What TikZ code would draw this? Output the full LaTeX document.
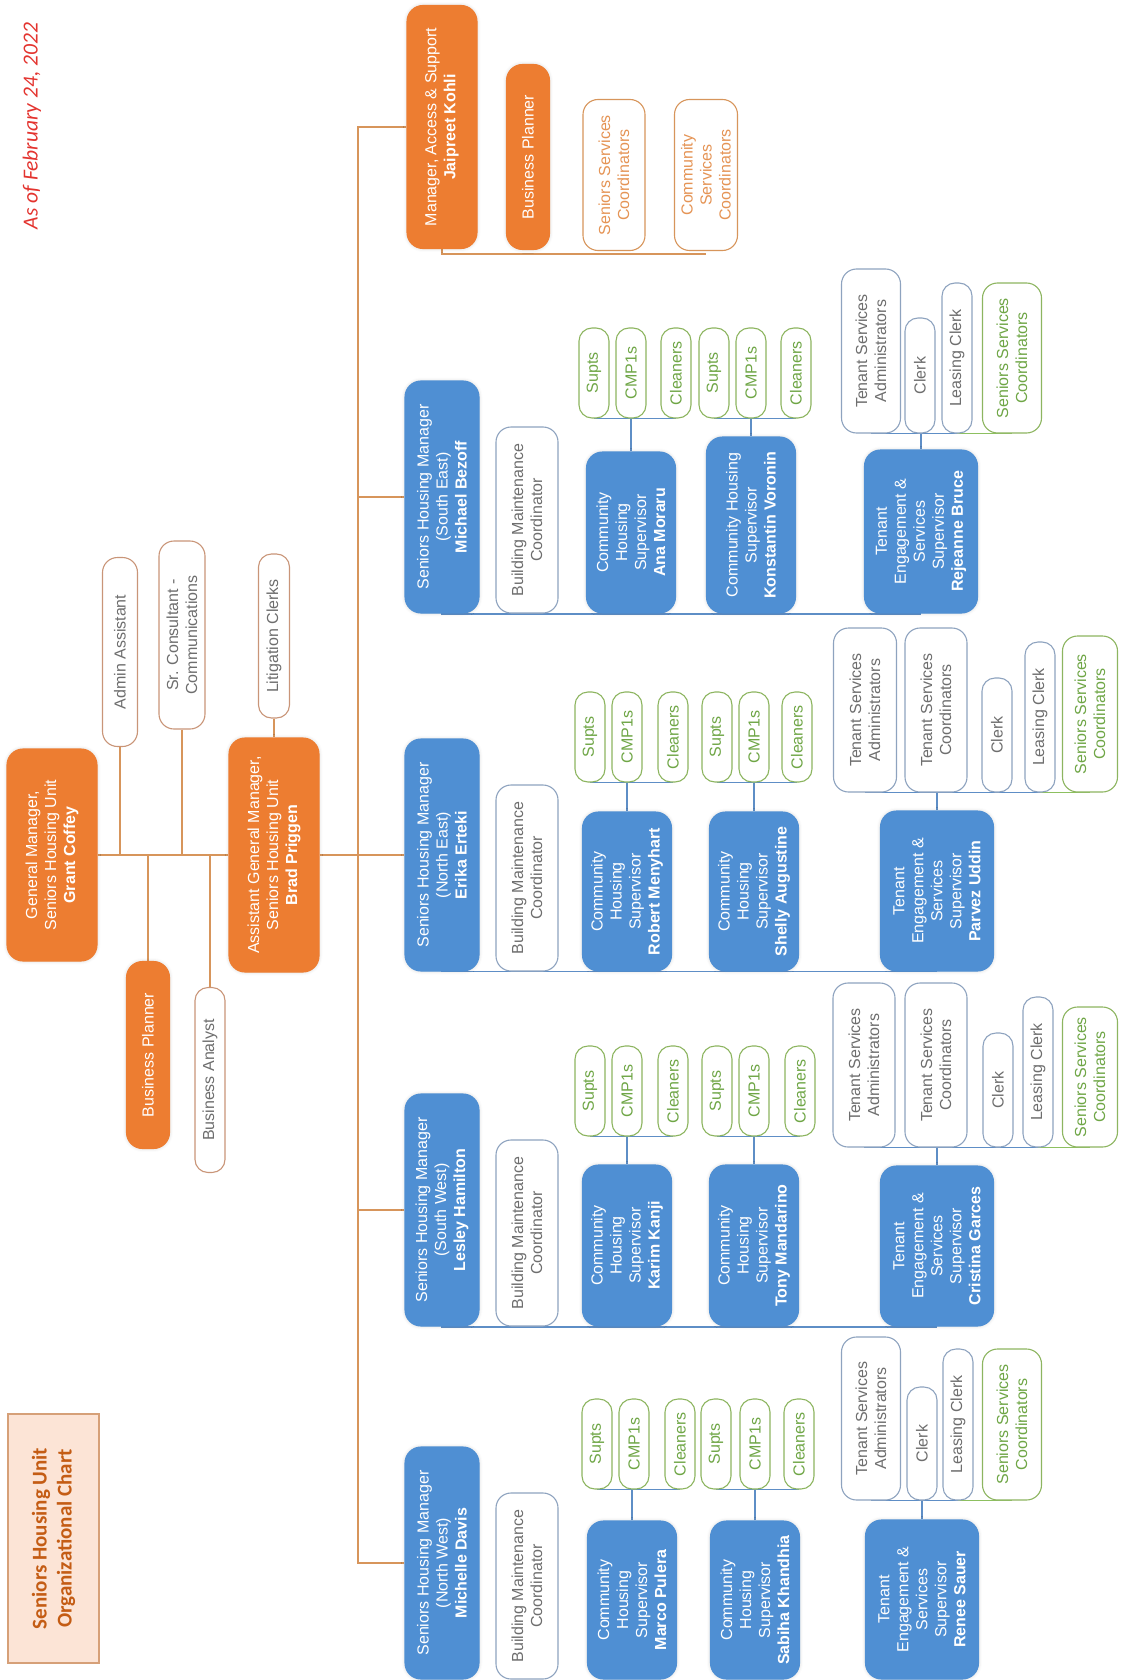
\documentclass[tikz,border=0pt]{standalone}
\usepackage{fontspec}
\setmainfont{Liberation Sans}
\newfontfamily\calib{Carlito}
\usetikzlibrary{calc,shadows.blur}
\pgfdeclarelayer{background}
\pgfsetlayers{background,main}
\definecolor{cOrange}{RGB}{237,125,49}
\definecolor{cBlue}{RGB}{79,143,211}
\definecolor{cOLine}{RGB}{215,149,91}
\definecolor{cBLine}{RGB}{94,142,198}
\definecolor{cGLine}{RGB}{141,192,96}
\definecolor{cBGray}{RGB}{142,163,191}
\definecolor{cTGray}{RGB}{110,110,110}
\definecolor{cOBrd}{RGB}{201,149,120}
\definecolor{cOText}{RGB}{229,148,85}
\definecolor{cGBrd}{RGB}{141,181,96}
\definecolor{cGText}{RGB}{111,166,70}
\definecolor{cTitleFill}{RGB}{252,228,214}
\definecolor{cTitleBrd}{RGB}{214,160,120}
\definecolor{cTitleText}{RGB}{196,92,20}
\definecolor{cRed}{RGB}{227,52,47}
\tikzset{
  box/.style={rotate=90, inner sep=0pt, align=center, font=\fontsize{16}{19}\selectfont, line width=1.1pt},
  glow/.style={blur shadow={shadow xshift=0pt, shadow yshift=0pt, shadow blur radius=3.5pt, shadow opacity=18}},
  sz/.style 2 args={minimum height=#1pt, minimum width=#2pt},
  obox/.style={box, glow, fill=cOrange, draw=cOrange, text=white, rounded corners=16pt},
  bbox/.style={box, glow, fill=cBlue, draw=cBlue, text=white, rounded corners=16pt},
  wbox/.style={box, fill=white, draw=cBGray, text=cTGray, rounded corners=15pt},
  owbox/.style={box, fill=white, draw=cOBrd, text=cTGray, rounded corners=15pt},
  oobox/.style={box, fill=white, draw=cOLine, text=cOText, rounded corners=15pt},
  gbox/.style={box, fill=white, draw=cGBrd, text=cGText, rounded corners=13pt},
  pill/.style={rounded corners=13pt},
  titlebox/.style={rotate=90, inner sep=0pt, align=center, fill=cTitleFill, draw=cTitleBrd, line width=1.2pt, text=cTitleText, font=\calib\bfseries\fontsize{21}{25}\selectfont},
  datelabel/.style={rotate=90, inner sep=0pt, text=cRed, font=\calib\itshape\fontsize{21.5}{25}\selectfont},
  oline/.style={draw=cOLine, line width=1.6pt},
  bline/.style={draw=cBLine, line width=1.6pt},
  gline/.style={draw=cGLine, line width=1.6pt}
}
\begin{document}
\begin{tikzpicture}[x=1pt,y=-1pt]
\useasboundingbox (0,0) rectangle (1122,1680);

% ---------- title and date
\node[titlebox, sz={91}{249}] (title) at (53.5,1538.5) {Seniors Housing Unit\\Organizational Chart};
\node[datelabel] (asof) at (32,126) {As of February 24, 2022};

% ---------- top management
\node[obox, sz={90}{212}] (gm) at (52,855) {General Manager,\\Seniors Housing Unit\\\textbf{Grant Coffey}};
\node[owbox, sz={35}{189}] (aa) at (120,652) {Admin Assistant};
\node[owbox, sz={46}{188}] (src) at (182,635) {Sr. Consultant -\\Communications};
\node[owbox, pill, sz={31}{164}] (lit) at (274,636) {Litigation Clerks};
\node[obox, sz={90}{234}] (agm) at (274,855) {Assistant General Manager,\\Seniors Housing Unit\\\textbf{Brad Priggen}};
\node[obox, sz={43}{187}] (bp) at (148,1055) {Business Planner};
\node[owbox, pill, sz={30}{185}] (ba) at (210,1080) {Business Analyst};

% ---------- access & support
\node[obox, sz={70}{243}] (acc) at (442,127) {Manager, Access \& Support\\\textbf{Jaipreet Kohli}};
\node[obox, sz={43}{185}] (bpa) at (528,157) {Business Planner};
\node[oobox, sz={62}{151}] (ssca) at (614,175) {Seniors Services\\Coordinators};
\node[oobox, sz={63}{151}] (csca) at (706,175) {Community\\Services\\Coordinators};

% ---------- South East
\node[bbox, sz={74}{232}] (mSE) at (442,497) {Seniors Housing Manager\\(South East)\\\textbf{Michael Bezoff}};
\node[wbox, sz={62}{186}] (bSE) at (527,520) {Building Maintenance\\Coordinator};
\node[bbox, sz={89}{161}] (cSE1) at (631,532.5) {Community\\Housing\\Supervisor\\\textbf{Ana Moraru}};
\node[bbox, sz={89}{176}] (cSE2) at (751,525) {Community Housing\\Supervisor\\\textbf{Konstantin Voronin}};
\node[bbox, sz={113}{163}] (tSE) at (921,531.5) {Tenant\\Engagement \&\\Services\\Supervisor\\\textbf{Rejeanne Bruce}};
\node[gbox, sz={30}{90}] (gSE1a) at (594,373) {Supts};
\node[gbox, sz={30}{90}] (gSE1b) at (631,373) {CMP1s};
\node[gbox, sz={30}{90}] (gSE1c) at (676,373) {Cleaners};
\node[gbox, sz={30}{90}] (gSE2a) at (714,373) {Supts};
\node[gbox, sz={30}{90}] (gSE2b) at (751,373) {CMP1s};
\node[gbox, sz={30}{90}] (gSE2c) at (796,373) {Cleaners};
\node[wbox, sz={59}{164}] (aSE) at (871,351) {Tenant Services\\Administrators};
\node[wbox, pill, sz={30}{115}] (kSE) at (920,375.5) {Clerk};
\node[wbox, pill, sz={30}{150}] (lSE) at (957,358) {Leasing Clerk};
\node[gbox, rounded corners=15pt, sz={59}{150}] (sSE) at (1012,358) {Seniors Services\\Coordinators};

% ---------- North East
\node[bbox, sz={74}{232}] (mNE) at (442,855) {Seniors Housing Manager\\(North East)\\\textbf{Erika Erteki}};
\node[wbox, sz={62}{186}] (bNE) at (527,878) {Building Maintenance\\Coordinator};
\node[bbox, sz={89}{159}] (cNE1) at (627,891.5) {Community\\Housing\\Supervisor\\\textbf{Robert Menyhart}};
\node[bbox, sz={89}{159}] (cNE2) at (754,891.5) {Community\\Housing\\Supervisor\\\textbf{Shelly Augustine}};
\node[bbox, sz={113}{160}] (tNE) at (937,891) {Tenant\\Engagement \&\\Services\\Supervisor\\\textbf{Parvez Uddin}};
\node[gbox, sz={30}{90}] (gNE1a) at (590,737) {Supts};
\node[gbox, sz={30}{90}] (gNE1b) at (627,737) {CMP1s};
\node[gbox, sz={30}{90}] (gNE1c) at (673,737) {Cleaners};
\node[gbox, sz={30}{90}] (gNE2a) at (717,737) {Supts};
\node[gbox, sz={30}{90}] (gNE2b) at (754,737) {CMP1s};
\node[gbox, sz={30}{90}] (gNE2c) at (797,737) {Cleaners};
\node[wbox, sz={63}{164}] (aNE) at (865,710) {Tenant Services\\Administrators};
\node[wbox, sz={62}{164}] (tsNE) at (936,710) {Tenant Services\\Coordinators};
\node[wbox, pill, sz={30}{114}] (kNE) at (997,735) {Clerk};
\node[wbox, pill, sz={30}{150}] (lNE) at (1040,717) {Leasing Clerk};
\node[gbox, rounded corners=15pt, sz={55}{156}] (sNE) at (1090,714) {Seniors Services\\Coordinators};

% ---------- South West
\node[bbox, sz={74}{232}] (mSW) at (442,1210) {Seniors Housing Manager\\(South West)\\\textbf{Lesley Hamilton}};
\node[wbox, sz={62}{186}] (bSW) at (527,1233) {Building Maintenance\\Coordinator};
\node[bbox, sz={89}{161}] (cSW1) at (627,1245.5) {Community\\Housing\\Supervisor\\\textbf{Karim Kanji}};
\node[bbox, sz={89}{161}] (cSW2) at (754,1245.5) {Community\\Housing\\Supervisor\\\textbf{Tony Mandarino}};
\node[bbox, sz={113}{160}] (tSW) at (937,1246) {Tenant\\Engagement \&\\Services\\Supervisor\\\textbf{Cristina Garces}};
\node[gbox, sz={30}{90}] (gSW1a) at (590,1091) {Supts};
\node[gbox, sz={30}{90}] (gSW1b) at (627,1091) {CMP1s};
\node[gbox, sz={30}{90}] (gSW1c) at (673,1091) {Cleaners};
\node[gbox, sz={30}{90}] (gSW2a) at (717,1091) {Supts};
\node[gbox, sz={30}{90}] (gSW2b) at (754,1091) {CMP1s};
\node[gbox, sz={30}{90}] (gSW2c) at (800,1091) {Cleaners};
\node[wbox, sz={62}{164}] (aSW) at (864,1065) {Tenant Services\\Administrators};
\node[wbox, sz={62}{164}] (tsSW) at (936,1065) {Tenant Services\\Coordinators};
\node[wbox, pill, sz={30}{114}] (kSW) at (998,1090) {Clerk};
\node[wbox, pill, sz={30}{150}] (lSW) at (1038,1072) {Leasing Clerk};
\node[gbox, rounded corners=15pt, sz={55}{140}] (sSW) at (1090,1077) {Seniors Services\\Coordinators};

% ---------- North West
\node[bbox, sz={74}{232}] (mNW) at (442,1563) {Seniors Housing Manager\\(North West)\\\textbf{Michelle Davis}};
\node[wbox, sz={62}{186}] (bNW) at (527,1586) {Building Maintenance\\Coordinator};
\node[bbox, sz={89}{158}] (cNW1) at (632,1600) {Community\\Housing\\Supervisor\\\textbf{Marco Pulera}};
\node[bbox, sz={89}{158}] (cNW2) at (755,1600) {Community\\Housing\\Supervisor\\\textbf{Sabiha Khandhia}};
\node[bbox, sz={113}{159}] (tNW) at (922,1599.5) {Tenant\\Engagement \&\\Services\\Supervisor\\\textbf{Renee Sauer}};
\node[gbox, sz={30}{90}] (gNW1a) at (597,1444) {Supts};
\node[gbox, sz={30}{90}] (gNW1b) at (634,1444) {CMP1s};
\node[gbox, sz={30}{90}] (gNW1c) at (680,1444) {Cleaners};
\node[gbox, sz={30}{90}] (gNW2a) at (716,1444) {Supts};
\node[gbox, sz={30}{90}] (gNW2b) at (755,1444) {CMP1s};
\node[gbox, sz={30}{90}] (gNW2c) at (799,1444) {Cleaners};
\node[wbox, sz={59}{163}] (aNW) at (871,1418.5) {Tenant Services\\Administrators};
\node[wbox, pill, sz={30}{113}] (kNW) at (922,1443.5) {Clerk};
\node[wbox, pill, sz={30}{151}] (lNW) at (958,1424.5) {Leasing Clerk};
\node[gbox, rounded corners=15pt, sz={59}{151}] (sNW) at (1012,1424.5) {Seniors Services\\Coordinators};

% ---------- connectors
\begin{pgfonlayer}{background}
\coordinate (tx) at (358,0);
\coordinate (accbus) at (0,254);
\coordinate (busSE) at (0,614);
\coordinate (busNE) at (0,971.5);
\coordinate (busSW) at (0,1327);
% top
\draw[oline] (gm.south) -- (agm.north);
\draw[oline] (aa.west) -- (aa.west |- gm.south);
\draw[oline] (src.west) -- (src.west |- gm.south);
\draw[oline] (bp.east) -- (bp.east |- gm.south);
\draw[oline] (ba.east) -- (ba.east |- gm.south);
\draw[oline] (lit.west) -- (agm.east);
\draw[oline] (agm.south) -- (mNE.north);
% trunk
\draw[oline] (acc.north) -- (acc.north -| tx) -- (mNW.north -| tx) -- (mNW.north);
\draw[oline] (mSE.north) -- (mSE.north -| tx);
\draw[oline] (mSW.north) -- (mSW.north -| tx);
% access group
\draw[oline] (acc.center) |- (csca.center |- accbus);
% SE
\draw[bline] (mSE.center) |- (tSE.center |- busSE);
\draw[bline] (gSE1a.west) -- (gSE1c.west);
\draw[bline] (gSE2a.west) -- (gSE2c.west);
\draw[bline] (cSE1.east) -- (cSE1.east |- gSE1b.west);
\draw[bline] (cSE2.east) -- (cSE2.east |- gSE2b.west);
\draw[bline] (aSE.west) -- (lSE.west);
\draw[gline] (lSE.west) -- (sSE.west);
\draw[bline] (tSE.east) -- (tSE.east |- kSE.west);
% NE
\draw[bline] (mNE.center) |- (tNE.center |- busNE);
\draw[bline] (gNE1a.west) -- (gNE1c.west);
\draw[bline] (gNE2a.west) -- (gNE2c.west);
\draw[bline] (cNE1.east) -- (cNE1.east |- gNE1b.west);
\draw[bline] (cNE2.east) -- (cNE2.east |- gNE2b.west);
\draw[bline] (aNE.west) -- (lNE.west);
\draw[gline] (lNE.west) -- (sNE.west);
\draw[bline] (tNE.east) -- (tNE.east |- tsNE.west);
% SW
\draw[bline] (mSW.center) |- (tSW.center |- busSW);
\draw[bline] (gSW1a.west) -- (gSW1c.west);
\draw[bline] (gSW2a.west) -- (gSW2c.west);
\draw[bline] (cSW1.east) -- (cSW1.east |- gSW1b.west);
\draw[bline] (cSW2.east) -- (cSW2.east |- gSW2b.west);
\draw[bline] (aSW.west) -- (lSW.west);
\draw[gline] (lSW.west) -- (sSW.west);
\draw[bline] (tSW.east) -- (tSW.east |- tsSW.west);
% NW
\draw[bline] (gNW1a.west) -- (gNW1c.west);
\draw[bline] (gNW2a.west) -- (gNW2c.west);
\draw[bline] (cNW1.east) -- (cNW1.east |- gNW1b.west);
\draw[bline] (cNW2.east) -- (cNW2.east |- gNW2b.west);
\draw[bline] (aNW.west) -- (lNW.west);
\draw[gline] (lNW.west) -- (sNW.west);
\draw[bline] (tNW.east) -- (tNW.east |- kNW.west);
\end{pgfonlayer}
\end{tikzpicture}
\end{document}
